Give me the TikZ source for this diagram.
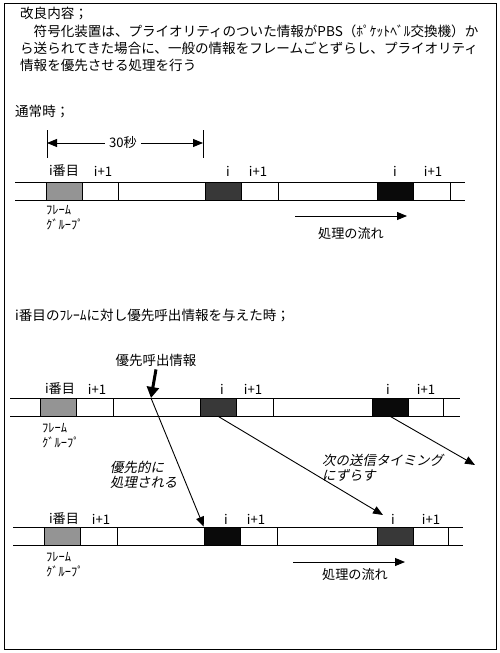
\documentclass[tikz,border=0pt]{standalone}
\usepackage{fontspec}
\setmainfont{Noto Sans CJK JP}
\newfontfamily\slantjp[FakeSlant=0.2]{Noto Sans CJK JP}
\usetikzlibrary{arrows.meta}
\definecolor{lightblk}{gray}{0.58}
\definecolor{darkblk}{gray}{0.22}
\definecolor{blackblk}{gray}{0.04}
\begin{document}
\begin{tikzpicture}[x=1bp,y=-1bp,
  txt/.style={inner sep=0, anchor=west, font=\fontsize{13.6}{17}\selectfont},
  lbl/.style={inner sep=0, font=\fontsize{13.2}{14}\selectfont},
  small/.style={inner sep=0, anchor=west, font=\fontsize{12.5}{13}\selectfont},
  slant/.style={inner sep=0, anchor=west, font=\fontsize{13.5}{15}\selectfont\slantjp},
  strip/.style={line width=0.8bp},
  blk/.style={draw, line width=0.5bp, inner sep=0, minimum width=36bp, minimum height=18bp},
  arr/.style={line width=0.9bp, -{Triangle[length=10bp,width=8bp]}},
]
\useasboundingbox (0,0) rectangle (500,653);
\draw[line width=0.9bp] (4,3) rectangle (496,649);

% header
\node[txt] (h1) at (20,13) {改良内容；};
\node[txt] (h2) at (20,31) {　符号化装置は、プライオリティのついた情報がPBS（ﾎﾟｹｯﾄﾍﾞﾙ交換機）か};
\node[txt] (h3) at (20,48) {ら送られてきた場合に、一般の情報をフレームごとずらし、プライオリティ};
\node[txt] (h4) at (20,65) {情報を優先させる処理を行う};

% ---------- row 1 ----------
\node[txt] (normal) at (15,112) {通常時；};
\draw[strip] (15,182) -- (465,182) (15,200) -- (465,200);
\draw[strip] (118,182) -- (118,200) (278,182) -- (278,200) (450,182) -- (450,200);
\node[blk, fill=lightblk] (r1b1) at (64,191) {};
\node[blk, fill=darkblk] (r1b2) at (223,191) {};
\node[blk, fill=blackblk] (r1b3) at (395,191) {};
\node[lbl] (r1l1) at (64,171) {i番目};
\node[lbl] (r1l2) at (103,171) {i+1};
\node[lbl] (r1l3) at (228,171) {i};
\node[lbl] (r1l4) at (258,171) {i+1};
\node[lbl] (r1l5) at (395,171) {i};
\node[lbl] (r1l6) at (433,171) {i+1};
\node[small] (r1f1) at (46,210) {ﾌﾚｰﾑ};
\node[small] (r1f2) at (46,224) {ｸﾞﾙｰﾌﾟ};
% 30 sec dimension
\coordinate (dl) at (47,143);
\coordinate (dr) at (203,143);
\draw[strip] (47,130) -- (47,158) (203,130) -- (203,158);
\node[lbl] (sec) at (123,143) {30秒};
\draw[arr] (sec.west) ++(-4,0) -- (dl);
\draw[arr] (sec.east) ++(4,0) -- (dr);
% flow
\coordinate (f1s) at (295,216);
\coordinate (f1e) at (407,216);
\draw[arr] (f1s) -- (f1e);
\node[lbl] (flow1) at (351,234) {処理の流れ};

% ---------- row 2 ----------
\node[txt] (prio) at (15,315) {i番目のﾌﾚｰﾑに対し優先呼出情報を与えた時；};
\draw[strip] (10,398) -- (460,398) (10,416) -- (460,416);
\draw[strip] (113,398) -- (113,416) (273,398) -- (273,416) (443,398) -- (443,416);
\node[blk, fill=lightblk] (r2b1) at (58,407) {};
\node[blk, fill=darkblk] (r2b2) at (218,407) {};
\node[blk, fill=blackblk] (r2b3) at (390,407) {};
\node[lbl] (r2l1) at (60,389) {i番目};
\node[lbl] (r2l2) at (97,389) {i+1};
\node[lbl] (r2l3) at (222,389) {i};
\node[lbl] (r2l4) at (253,389) {i+1};
\node[lbl] (r2l5) at (388,389) {i};
\node[lbl] (r2l6) at (426,389) {i+1};
\node[small] (r2f1) at (42,428) {ﾌﾚｰﾑ};
\node[small] (r2f2) at (42,442) {ｸﾞﾙｰﾌﾟ};
\node[lbl, font=\fontsize{13.5}{15}\selectfont] (call) at (156,360) {優先呼出情報};
\coordinate (hit) at (151,398);
\draw[line width=3bp, -{Triangle[length=11bp,width=12bp]}] (call.south) ++(0,3) -- (hit);

% ---------- row 3 ----------
\draw[strip] (13,527) -- (463,527) (13,545) -- (463,545);
\draw[strip] (117,527) -- (117,545) (277,527) -- (277,545) (448,527) -- (448,545);
\node[blk, fill=lightblk] (r3b1) at (62,536) {};
\node[blk, fill=blackblk] (r3b2) at (222,536) {};
\node[blk, fill=darkblk] (r3b3) at (395,536) {};
\node[lbl] (r3l1) at (64,519) {i番目};
\node[lbl] (r3l2) at (101,519) {i+1};
\node[lbl] (r3l3) at (226,519) {i};
\node[lbl] (r3l4) at (256,519) {i+1};
\node[lbl] (r3l5) at (393,519) {i};
\node[lbl] (r3l6) at (431,519) {i+1};
\node[small] (r3f1) at (46,557) {ﾌﾚｰﾑ};
\node[small] (r3f2) at (46,571) {ｸﾞﾙｰﾌﾟ};
\coordinate (f3s) at (293,562);
\coordinate (f3e) at (405,562);
\draw[arr] (f3s) -- (f3e);
\node[lbl] (flow3) at (355,575) {処理の流れ};

% ---------- connectors between rows ----------
\draw[arr] (hit) -- (r3b2.north west);
\coordinate (shift1) at (383,515);
\draw[arr] (r2b2.south) -- (shift1);
\coordinate (shift2) at (475,465);
\draw[arr] (r2b3.south) -- (shift2);
\node[slant] (pr1) at (110,467) {優先的に};
\node[slant] (pr2) at (110,482) {処理される};
\node[slant] (nx1) at (322,460) {次の送信タイミング};
\node[slant] (nx2) at (322,475) {にずらす};
\end{tikzpicture}
\end{document}
